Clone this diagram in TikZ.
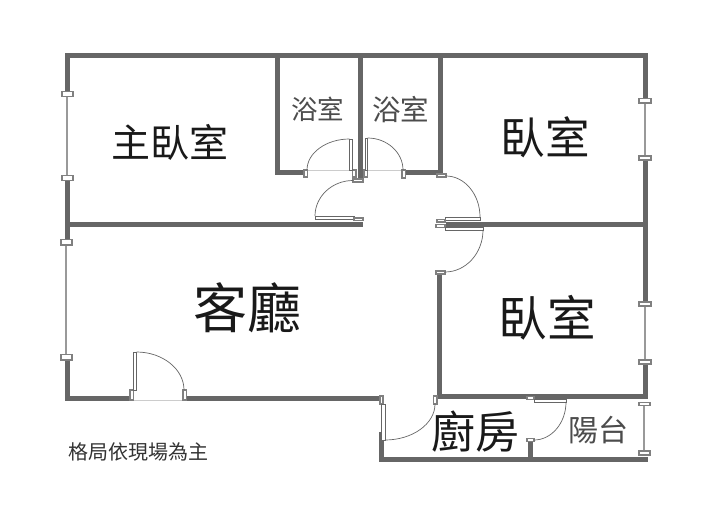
\documentclass[tikz,border=0pt]{standalone}
\usepackage{fontspec}
\setmainfont{Noto Sans CJK TC}
\usetikzlibrary{calc}
\definecolor{wallgray}{HTML}{666666}
\definecolor{frmgray}{HTML}{808080}
\tikzset{
  wall/.style={draw=wallgray,line width=5pt,line cap=rect},
  glass/.style={draw=frmgray!80,line width=1.4pt},
  frm/.style={draw=frmgray,fill=white,line width=1.2pt},
  leaf/.style={draw=frmgray!80!black,fill=white,line width=0.8pt},
  swing/.style={draw=frmgray!80!black,line width=0.7pt},
  sill/.style={draw=black!20,line width=0.6pt},
  room/.style={inner sep=0pt,text=black!90},
}
\newcommand{\frm}[4]{\draw[frm] (#1,#2) rectangle (#3,#4);}
\newcommand{\doorleaf}[4]{\draw[leaf] (#1,#2) rectangle (#3,#4);}
\newcommand{\doorswing}[3]{\draw[swing] (#1) .. controls ($(#1)!.55!(#2)$) and ($(#3)!.55!(#2)$) .. (#3);}
\newcommand{\fsz}[1]{\fontsize{#1}{#1}\selectfont}
\begin{document}
\begin{tikzpicture}[x=1pt,y=-1pt]
  \useasboundingbox (0,0) rectangle (701,506);
  \fill[white] (0,0) rectangle (701,506);

  % outer walls
  \draw[wall] (67,94) -- (67,55) -- (645,55) -- (645,101);
  \draw[wall] (67,178) -- (67,240);
  \draw[wall] (67,358) -- (67,398) -- (127,398);
  \draw[wall] (189,398) -- (378,398);
  \draw[wall] (645,158) -- (645,303);
  \draw[wall] (645,362) -- (645,396) -- (439,396) -- (439,275);
  \draw[wall] (381,434) -- (381,459) -- (645,459);
  \draw[wall] (530,443) -- (530,458);

  % inner walls
  \draw[wall] (277,55) -- (277,172) -- (302,172);
  \draw[wall] (360,55) -- (360,178);
  \draw[wall] (440,55) -- (440,172) -- (408,172);
  \draw[wall] (67,224) -- (360,224);
  \draw[wall] (448,224) -- (645,224);

  % windows
  \draw[glass] (67,94) -- (67,178);
  \draw[glass] (66,242) -- (66,357);
  \draw[glass] (645,101) -- (645,158);
  \draw[glass] (645,304) -- (645,362);
  \draw[glass] (644,404) -- (644,453);
  \frm{62}{91.5}{73}{96.5}
  \frm{62}{175.5}{73}{180.5}
  \frm{61}{239.5}{72}{245}
  \frm{61}{354.5}{72}{360}
  \frm{639}{98.5}{651}{103}
  \frm{639}{156}{651}{160}
  \frm{639}{302}{651}{306}
  \frm{639}{360}{651}{364}
  \frm{639}{402.5}{650}{405.5}
  \frm{639}{451}{650}{455}

  % entrance door
  \draw[sill] (133,400) -- (184,400);
  \frm{130}{390}{133.5}{400}
  \frm{183}{390}{186.5}{400}
  \doorleaf{133.5}{352}{136.5}{390}
  \doorswing{136.5,352}{184,352}{184,390}

  % bath doors
  \draw[sill] (307,170.5) -- (352,170.5);
  \draw[sill] (367,170.5) -- (402,170.5);
  \frm{304}{170}{307.5}{177}
  \frm{352.5}{170}{356}{177}
  \doorleaf{349.5}{139}{352.5}{170}
  \doorswing{349.5,139}{307,139}{307,170}
  \frm{364}{170}{367.5}{177}
  \frm{402}{170}{405.5}{178}
  \doorleaf{365}{138}{367.5}{170}
  \doorswing{367.5,138}{403,138}{403,170}

  % master bedroom door
  \frm{353}{179}{363}{182}
  \doorleaf{315}{216}{354}{219}
  \frm{354}{218}{363}{220.5}
  \doorswing{353,180.5}{315,180.5}{315,216}

  % bedroom doors
  \frm{437}{174}{446}{177}
  \doorleaf{445}{217}{480}{220}
  \frm{437}{219.5}{445}{222}
  \doorswing{446,176}{480,176}{480,217}
  \frm{436}{224.5}{445}{227.5}
  \doorleaf{445}{227}{483}{230}
  \frm{436}{271}{445}{274}
  \doorswing{483,230}{483,272}{445,272}

  % kitchen doors
  \frm{380}{396}{383}{404}
  \doorleaf{381}{404}{385}{440}
  \frm{433.5}{396}{437}{404}
  \doorswing{385,440}{435,440}{435,404}
  \frm{527}{396.5}{534}{399.5}
  \doorleaf{534}{399.5}{566}{402}
  \frm{527}{438.5}{534}{441.5}
  \doorswing{566,402}{566,440}{534,440}

  % room names
  \node[room,font=\fsz{39}] (master) at (170,142) {主臥室};
  \node[room,font=\fsz{26.5},text=black!70] (bathA) at (317.5,109) {浴室};
  \node[room,font=\fsz{28.5},text=black!70] (bathB) at (400.5,110) {浴室};
  \node[room,font=\fsz{44.5}] (bedA) at (545,137) {臥室};
  \node[room,font=\fsz{48.5}] (bedB) at (547,318) {臥室};
  \node[room,font=\fsz{54}] (living) at (247.5,308) {客廳};
  \node[room,font=\fsz{44}] (kitchen) at (475,432) {廚房};
  \node[room,font=\fsz{30},text=black!70] (balcony) at (598,430) {陽台};
  \node[room,font=\fsz{20},text=black!80] (note) at (138,452) {格局依現場為主};
\end{tikzpicture}
\end{document}
